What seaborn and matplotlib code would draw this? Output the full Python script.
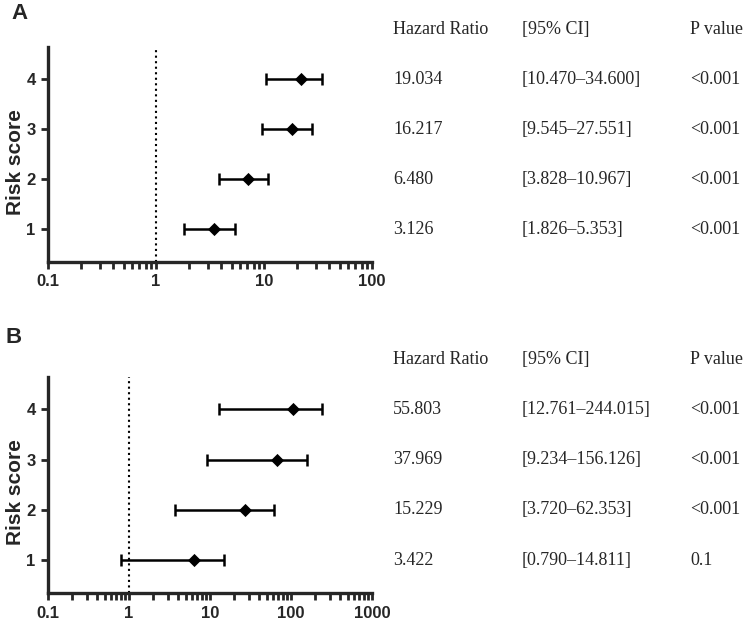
import numpy as np
import pandas as pd
import matplotlib
matplotlib.use("Agg")
import matplotlib.pyplot as plt
import matplotlib.transforms as mtransforms
from matplotlib.ticker import FuncFormatter, NullFormatter, LogLocator
import seaborn as sns

sns.set_style("ticks")
plt.rcParams["font.family"] = ["Liberation Sans", "DejaVu Sans"]

# data
risk_score = [1, 2, 3, 4]

# panel A
a_hr_pos = [3.46, 7.06, 18.0, 21.8]
a_ci_lo = [1.826, 3.828, 9.545, 10.470]
a_ci_hi = [5.353, 10.967, 27.551, 34.600]
a_hr_txt = ["3.126", "6.480", "16.217", "19.034"]
a_ci_txt = ["[1.826–5.353]", "[3.828–10.967]", "[9.545–27.551]", "[10.470–34.600]"]
a_p_txt = ["<0.001", "<0.001", "<0.001", "<0.001"]

# panel B
b_hr_pos = [6.4, 27.3, 67.0, 105.0]
b_ci_lo = [0.790, 3.720, 9.234, 12.761]
b_ci_hi = [14.811, 62.353, 156.126, 244.015]
b_hr_txt = ["3.422", "15.229", "37.969", "55.803"]
b_ci_txt = ["[0.790–14.811]", "[3.720–62.353]", "[9.234–156.126]", "[12.761–244.015]"]
b_p_txt = ["0.1", "<0.001", "<0.001", "<0.001"]

headers = ["Hazard Ratio", "[95% CI]", "P value"]
col_x = [0.5247, 0.6965, 0.9212]


def draw_panel(fig, ax, hr, lo, hi, hr_txt, ci_txt, p_txt, xmax, letter, letter_x, letter_y):
    df = pd.DataFrame({"score": risk_score, "hr": hr, "lo": lo, "hi": hi})

    ax.axvline(1, color="black", linestyle=":", linewidth=1.5, zorder=1)
    ax.errorbar(df["hr"], df["score"],
                xerr=[df["hr"] - df["lo"], df["hi"] - df["hr"]],
                fmt="none", ecolor="black", elinewidth=1.8,
                capsize=4.3, capthick=1.8, zorder=2)
    sns.scatterplot(data=df, x="hr", y="score", marker="D", color="black",
                    s=45, edgecolor="black", linewidth=0, ax=ax, zorder=3)

    ax.set_xscale("log")
    ax.set_xlim(0.1, xmax)
    ax.set_ylim(0.34, 4.65)
    ax.set_yticks(risk_score)
    ax.xaxis.set_major_locator(LogLocator(base=10))
    ax.xaxis.set_minor_locator(LogLocator(base=10, subs=np.arange(2, 10)))
    ax.xaxis.set_major_formatter(FuncFormatter(lambda v, p: f"{v:g}"))
    ax.xaxis.set_minor_formatter(NullFormatter())
    ax.set_xlabel("")
    ax.set_ylabel("Risk score", fontsize=15, fontweight="bold")
    ax.yaxis.set_label_coords(-0.07, 0.467)

    for lbl in ax.get_xticklabels() + ax.get_yticklabels():
        lbl.set_fontweight("bold")
    ax.tick_params(axis="both", which="major", labelsize=12, width=2, length=5, pad=4)
    ax.tick_params(axis="x", which="minor", width=2, length=5)
    ax.tick_params(axis="y", which="minor", length=0)

    sns.despine(ax=ax)
    for side in ["left", "bottom"]:
        ax.spines[side].set_linewidth(2.4)

    # table on the right
    trans = mtransforms.blended_transform_factory(fig.transFigure, ax.transData)
    for x, h in zip(col_x, headers):
        ax.text(x, 5.0, h, transform=trans, ha="left", va="center",
                fontsize=13, family="Liberation Serif", clip_on=False)
    for i, s in enumerate(risk_score):
        for x, t in zip(col_x, [hr_txt[i], ci_txt[i], p_txt[i]]):
            ax.text(x, s, t, transform=trans, ha="left", va="center",
                    fontsize=13, family="Liberation Serif", clip_on=False)

    fig.text(letter_x, letter_y, letter, fontsize=16, fontweight="bold", va="top")


fig = plt.figure(figsize=(7.49, 6.25), dpi=100)
ax_a = fig.add_axes([0.0641, 0.5808, 0.4326, 0.344])
ax_b = fig.add_axes([0.0641, 0.0507, 0.4326, 0.3466])

draw_panel(fig, ax_a, a_hr_pos, a_ci_lo, a_ci_hi, a_hr_txt, a_ci_txt, a_p_txt,
           100, "A", 0.015, 0.995)
draw_panel(fig, ax_b, b_hr_pos, b_ci_lo, b_ci_hi, b_hr_txt, b_ci_txt, b_p_txt,
           1000, "B", 0.008, 0.477)

fig.savefig("out.png", dpi=100)
